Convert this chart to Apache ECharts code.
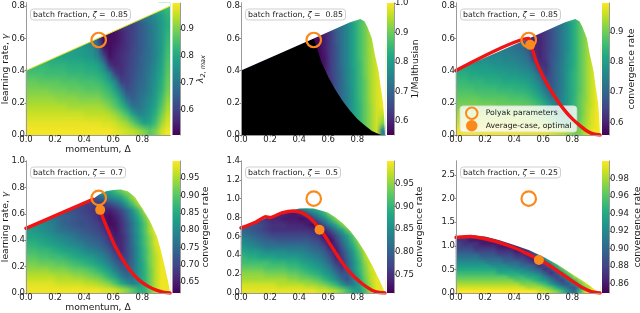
<!DOCTYPE html>
<html><head><meta charset="utf-8">
<style>html,body{margin:0;padding:0;background:#fff}#main{width:640px;height:313px;filter:blur(0.35px)}</style>
<script src="https://cdn.jsdelivr.net/npm/echarts@6/dist/echarts.min.js"></script>
</head><body><div id="main"></div>
<script>
const _ = null;
const viridis = ['#440154','#482475','#414487','#355f8d','#2a788e','#21918c','#22a884','#44bf70','#7ad151','#bddf26','#fde725'];
const columnCount = 25;

const ticksX = [0, 0.2, 0.4, 0.6, 0.8];
const ticksY1 = [0, 0.2, 0.4, 0.6, 0.8];
const ticksY4 = [0, 0.2, 0.4, 0.6, 0.8, 1.0];
const ticksY5 = [0, 0.2, 0.4, 0.6, 0.8, 1.0, 1.2, 1.4];
const ticksY6 = [0, 0.5, 1.0, 1.5, 2.0, 2.5];
const cbarTicks1 = [0.6, 0.7, 0.8, 0.9];
const cbarTicks2 = [0.6, 0.7, 0.8, 0.9, 1.0];
const cbarTicks3 = [0.6, 0.7, 0.8, 0.9];
const cbarTicks4 = [0.65, 0.70, 0.75, 0.80, 0.85, 0.90, 0.95];
const cbarTicks5 = [0.75, 0.80, 0.85, 0.90, 0.95];
const cbarTicks6 = [0.86, 0.88, 0.90, 0.92, 0.94, 0.96, 0.98];

// cell values (x100), rows listed top to bottom
const cellsP1 = [
[_,_,_,_,_,_,_,_,_,_,_,_,_,_,_,_,_,_,_,_,_,_,_,82,84],
[_,_,_,_,_,_,_,_,_,_,_,_,_,_,_,_,_,_,_,_,_,72,75,78,82],
[_,_,_,_,_,_,_,_,_,_,_,_,_,_,_,_,_,_,60,63,66,70,73,77,81],
[_,_,_,_,_,_,_,_,_,_,_,_,_,_,52,53,55,58,60,63,66,69,73,77,82],
[_,_,_,_,_,_,_,_,_,_,_,74,64,52,52,53,55,58,60,63,66,69,73,77,83],
[_,_,_,_,_,_,_,_,78,77,76,74,68,54,52,54,56,58,61,63,66,69,73,77,84],
[_,_,_,_,_,80,79,79,78,78,77,76,72,62,53,55,57,59,61,64,67,69,73,78,85],
[_,83,83,83,82,82,82,81,81,81,80,80,78,72,58,55,57,59,62,64,67,70,74,79,86],
[85,85,85,84,84,84,84,83,83,83,82,82,81,78,72,60,57,60,62,65,68,71,75,80,87],
[88,88,87,87,87,87,86,86,86,85,85,85,84,82,78,72,60,60,63,66,68,72,76,81,88],
[90,90,90,90,89,89,89,88,88,88,87,87,87,85,83,78,70,62,64,67,69,72,77,82,89],
[92,92,92,92,92,91,91,91,91,90,90,90,90,88,86,83,77,68,65,68,71,74,78,84,91],
[94,94,94,94,94,94,94,93,93,93,93,93,93,92,90,87,83,77,69,69,72,75,80,86,93],
[96,96,96,96,96,96,96,96,96,96,95,95,95,95,94,92,89,85,79,73,74,77,82,89,95],
[98,98,98,98,98,98,98,98,98,98,98,98,98,97,97,96,94,92,88,83,78,80,85,92,97],
[99,99,99,99,99,99,99,99,99,99,99,99,99,99,99,98,97,96,95,93,90,87,90,96,99]];
const cellsP2 = [
[_,_,_,_,_,_,_,_,_,_,_,_,_,_,_,_,_,_,_,_,_,_,_,_,_],
[_,_,_,_,_,_,_,_,_,_,_,_,_,_,_,_,_,_,_,_,86,89],
[_,_,_,_,_,_,_,_,_,_,_,_,_,_,_,_,_,72,76,81,86,90,94],
[_,_,_,_,_,_,_,_,_,_,_,_,_,_,59,63,68,72,76,81,86,90,94,97],
[_,_,_,_,_,_,_,_,_,_,_,_,56,56,59,63,68,72,76,81,86,90,94,97],
[_,_,_,_,_,_,_,_,_,_,_,_,56,56,59,63,67,72,76,81,86,90,94,97,99],
[_,_,_,_,_,_,_,_,_,_,_,_,_,56,58,63,67,72,76,81,86,90,94,97,99],
[_,_,_,_,_,_,_,_,_,_,_,_,_,56,58,63,67,72,76,81,85,90,94,97,99],
[_,_,_,_,_,_,_,_,_,_,_,_,_,_,59,63,67,71,76,80,85,90,94,97,99],
[_,_,_,_,_,_,_,_,_,_,_,_,_,_,_,62,67,71,76,80,85,89,94,97,99],
[_,_,_,_,_,_,_,_,_,_,_,_,_,_,_,63,67,71,75,80,85,89,94,97,99],
[_,_,_,_,_,_,_,_,_,_,_,_,_,_,_,_,68,71,75,80,85,89,94,97,99],
[_,_,_,_,_,_,_,_,_,_,_,_,_,_,_,_,_,72,75,80,84,89,93,97,99],
[_,_,_,_,_,_,_,_,_,_,_,_,_,_,_,_,_,_,76,80,84,89,93,97,96],
[_,_,_,_,_,_,_,_,_,_,_,_,_,_,_,_,_,_,_,81,84,89,93,97,92],
[_,_,_,_,_,_,_,_,_,_,_,_,_,_,_,_,_,_,_,_,_,89,93,97,75]];
const cellsP3 = [
[_,_,_,_,_,_,_,_,_,_,_,_,_,_,_,_,_,_,_,_,_,_,_,_,_],
[_,_,_,_,_,_,_,_,_,_,_,_,_,_,_,_,_,_,_,_,84,87],
[_,_,_,_,_,_,_,_,_,_,_,_,_,_,_,_,_,70,74,78,83,88,92],
[_,_,_,_,_,_,_,_,_,_,_,_,_,_,61,63,66,70,74,78,83,88,92,96],
[_,_,_,_,_,_,_,_,_,_,_,71,67,60,60,63,66,70,74,78,83,88,92,96],
[_,_,_,_,_,_,_,_,74,73,72,71,68,60,60,63,66,70,74,78,83,88,92,96,99],
[_,_,_,_,_,76,76,76,75,75,74,73,71,63,60,63,67,70,74,79,83,88,92,96,99],
[_,80,80,79,79,79,78,78,77,77,76,75,74,70,62,62,67,71,75,79,83,88,92,96,99],
[83,83,82,82,81,81,81,80,80,79,79,78,77,75,70,63,67,71,75,80,84,88,92,96,99],
[85,85,84,84,84,83,83,83,82,82,82,81,80,78,74,68,67,71,75,80,84,88,92,96,99],
[87,87,87,86,86,86,86,85,85,85,84,84,83,81,78,73,68,71,75,80,84,88,92,96,99],
[89,89,89,89,88,88,88,88,88,87,87,87,86,84,82,78,73,72,76,80,84,89,92,96,99],
[91,91,91,91,91,91,91,90,90,90,90,89,89,88,86,83,79,74,76,80,85,89,93,96,99],
[94,94,94,94,94,94,93,93,93,93,93,93,92,91,90,88,85,81,77,81,85,89,93,97,99],
[96,96,96,96,96,96,96,96,96,96,96,96,95,95,94,93,91,88,85,82,85,90,94,97,99],
[99,99,99,99,99,99,99,99,99,99,99,98,98,98,98,98,97,96,95,93,90,91,95,98,99]];
const cellsP4 = [
[_,_,_,_,_,_,_,_,_,_,_,_,_,_,84,88,91,94],
[_,_,_,_,_,_,_,_,_,_,_,72,73,76,79,81,84,89,94,98],
[_,_,_,_,_,_,_,_,_,70,69,69,68,68,70,73,77,83,89,95,99],
[_,_,_,_,_,_,73,72,71,70,69,68,67,65,65,67,70,75,81,88,95,99],
[_,_,_,78,77,75,74,73,72,71,70,69,67,64,63,65,68,73,79,85,91,97,99],
[_,81,80,79,78,76,74,73,72,71,71,70,69,66,63,64,67,71,77,83,89,95,99],
[83,82,81,80,79,77,76,75,74,73,72,71,70,68,65,64,67,71,77,83,89,95,99],
[84,84,83,82,81,80,79,78,77,75,74,73,72,70,67,65,66,70,76,82,88,93,98,99],
[86,86,85,84,83,82,81,80,79,78,76,75,74,72,69,66,66,70,76,82,88,93,98,99],
[88,88,87,87,86,85,84,83,82,81,79,78,77,75,72,68,66,70,75,81,87,92,97,99],
[90,90,89,89,88,88,87,86,85,84,83,82,80,78,75,71,68,70,75,81,87,92,96,99,99],
[92,92,91,91,91,90,90,89,88,87,86,85,83,81,78,74,71,71,75,81,86,92,96,99,99],
[94,94,94,94,93,93,93,92,91,91,90,89,87,85,82,78,74,72,76,81,86,91,96,99,99],
[96,96,96,96,96,95,95,95,94,94,93,92,91,89,86,83,78,75,76,81,86,91,96,99,99],
[98,98,98,98,98,97,97,97,97,97,96,96,95,94,92,89,85,81,78,80,86,91,96,99,99],
[99,99,99,99,99,99,99,99,99,99,99,99,99,98,98,97,95,93,90,86,86,91,96,99,99]];
const cellsP5 = [
[_,_,_,_,_,_,_,_,_,_,86,88,89,91],
[_,_,_,_,_,_,74,74,73,73,75,79,83,86,90,95],
[_,_,_,76,75,74,74,73,73,73,72,73,77,81,85,90,95,99],
[_,79,78,77,76,75,75,75,74,74,74,73,72,75,79,84,89,94,99],
[80,79,78,77,76,75,75,75,75,75,75,75,74,72,74,78,83,88,93,98],
[82,81,80,79,78,77,77,77,77,77,77,77,76,75,72,74,78,83,88,93,98],
[84,83,82,81,80,80,79,79,79,79,79,79,78,77,74,72,76,81,86,91,96,99],
[86,85,84,83,82,82,82,82,82,82,82,81,80,79,77,73,74,79,84,89,94,99],
[88,87,87,86,85,85,85,85,84,84,84,83,82,81,79,76,73,77,82,87,92,97,99],
[90,89,89,88,88,88,87,87,87,87,86,85,84,83,81,78,74,76,81,86,91,96,99],
[91,91,91,91,91,90,90,90,89,89,88,87,86,85,83,80,76,75,80,85,90,95,98,99],
[93,93,93,93,92,92,92,92,91,91,90,89,88,87,85,83,79,76,80,85,90,94,98,99],
[95,95,95,95,94,94,94,94,93,93,92,91,90,89,87,85,82,78,79,84,89,94,97,99],
[96,96,96,96,96,96,96,96,95,95,94,94,93,92,90,88,85,81,78,83,88,93,97,99,99],
[98,98,98,98,98,98,97,97,97,97,97,96,96,95,94,92,90,86,83,83,87,92,96,99,99],
[99,99,99,99,99,99,99,99,99,99,99,99,99,98,98,97,96,94,91,88,87,91,96,99,99]];
const cellsP6 = [
[87,87,87,87,88,89],
[87,87,86,86,86,86,86,88,91],
[88,87,87,87,86,86,86,86,86,87,90],
[88,88,88,87,87,87,87,86,86,86,86,88,92],
[89,89,89,88,88,88,88,87,87,87,86,86,87,91,95],
[90,90,90,90,89,89,89,88,88,88,87,87,86,88,92,96],
[91,91,91,91,90,90,90,90,89,89,88,88,87,86,89,93,97],
[92,92,92,92,92,91,91,91,90,90,90,89,88,87,87,90,94,98],
[93,93,93,93,93,93,92,92,92,91,91,90,90,89,87,88,91,95,99],
[94,94,94,94,94,94,94,93,93,93,92,92,91,90,89,87,88,92,96,99],
[95,95,95,95,95,95,95,94,94,94,94,93,93,92,91,89,87,89,93,97,99],
[96,96,96,96,96,96,96,96,96,95,95,95,94,94,93,91,89,88,90,94,98,99],
[97,97,97,97,97,97,97,97,97,97,96,96,96,95,94,93,91,89,88,91,95,98,99],
[98,98,98,98,98,98,98,98,98,98,98,97,97,97,96,95,93,91,89,89,92,96,99,99],
[99,99,99,99,99,99,99,99,99,99,99,99,98,98,98,97,96,94,92,90,89,93,97,99,99],
[100,100,100,100,100,100,100,100,100,100,100,100,100,100,99,99,98,97,95,92,90,95,99,100,100]];

// region edges and optimal-rate curves
const edgeP1 = [[0,0.4],[0.99,0.8]];
const edgeP2 = [[0,0.4],[0.5,0.6],[0.75,0.7],[0.8,0.715],[0.82,0.72],[0.85,0.705],[0.87,0.67],[0.9,0.6],[0.92,0.5],[0.945,0.4],[0.96,0.3],[0.977,0.2],[0.985,0.1],[0.99,0]];
const edgeP4 = [[0,0.49],[0.47,0.72],[0.5,0.745],[0.55,0.77],[0.6,0.78],[0.65,0.785],[0.7,0.77],[0.75,0.725],[0.8,0.64],[0.85,0.55],[0.9,0.43],[0.93,0.31],[0.96,0.17],[0.98,0.07],[0.99,0]];
const edgeP5 = [[0,0.68],[0.18,0.8],[0.2,0.8],[0.3,0.85],[0.35,0.875],[0.4,0.895],[0.45,0.9],[0.5,0.895],[0.55,0.875],[0.6,0.85],[0.65,0.8],[0.7,0.74],[0.75,0.66],[0.8,0.56],[0.85,0.44],[0.9,0.3],[0.95,0.14],[0.98,0.04],[0.99,0]];
const edgeP6 = [[0,1.2],[0.1,1.22],[0.2,1.2],[0.3,1.12],[0.4,1.02],[0.5,0.91],[0.6,0.77],[0.7,0.6],[0.8,0.4],[0.9,0.2],[0.95,0.08],[0.99,0]];
const blackP2 = [[0,0.4],[0.5,0.6],[0.52,0.55],[0.55,0.46],[0.6,0.36],[0.65,0.28],[0.7,0.21],[0.75,0.15],[0.8,0.1],[0.85,0.06],[0.9,0.025],[0.95,0.005],[0.97,0]];
const redP3 = [[0,0.4],[0.5,0.6],[0.52,0.55],[0.55,0.46],[0.6,0.36],[0.65,0.28],[0.7,0.21],[0.75,0.15],[0.8,0.1],[0.85,0.06],[0.9,0.025],[0.95,0.005],[0.99,0]];
const redP4 = [[0,0.49],[0.46,0.71],_,[0.52,0.6],[0.53,0.565],[0.57,0.46],[0.61,0.36],[0.65,0.28],[0.69,0.21],[0.74,0.14],[0.78,0.096],[0.84,0.05],[0.9,0.02],[0.95,0.005],[0.99,0]];
const redP5 = [[0,0.69],[0.1,0.75],[0.17,0.81],[0.2,0.8],[0.28,0.85],[0.36,0.87],[0.42,0.85],[0.47,0.8],[0.52,0.72],[0.57,0.62],[0.62,0.5],[0.67,0.38],[0.72,0.27],[0.78,0.17],[0.84,0.09],[0.9,0.03],[0.95,0.005],[0.99,0]];
const redP6 = [[0,1.18],[0.1,1.2],[0.2,1.15],[0.3,1.07],[0.4,0.96],[0.5,0.82],[0.57,0.71],[0.65,0.57],[0.72,0.42],[0.8,0.25],[0.87,0.11],[0.93,0.03],[0.99,0]];

// parameter markers
const polyakPoints = [[0.5,0.59],[0.5,0.59],[0.5,0.59],[0.5,0.72],[0.5,1.0],[0.5,2.0]];
const optimalPoints = [_,_,[0.51,0.56],[0.51,0.63],[0.54,0.67],[0.57,0.7]];
const cbarRanges = [[0.504,0.9975],[0.552,1.0],[0.558,0.9967],[0.619,0.999],[0.709,1.0],[0.849,0.9999]];
const zetaLabels = ['0.85','0.85','0.85','0.7','0.5','0.25'];
const yMax = [0.82,0.82,0.82,1.0,1.4,2.8];
const rowTotals = [16,16,16,20,24,36];

const panels = [
 {cells:cellsP1,edge:edgeP1,ticks:ticksY1,cbTicks:cbarTicks1,cbDigits:1,left:26,top:3,cbLeft:172.5,cbGap:15,cbName:'{i|λ}{s|2, max}',edgeLine:1},
 {cells:cellsP2,edge:edgeP2,black:blackP2,ticks:ticksY1,cbTicks:cbarTicks2,cbDigits:1,left:241,top:3,cbLeft:387,cbGap:17,cbName:'{a|1/Malthusian}'},
 {cells:cellsP3,edge:edgeP2,red:redP3,ticks:ticksY1,cbTicks:cbarTicks3,cbDigits:1,left:456,top:3,cbLeft:602,cbGap:18,cbName:'{a|convergence rate}'},
 {cells:cellsP4,edge:edgeP4,red:redP4,ticks:ticksY4,cbTicks:cbarTicks4,cbDigits:2,left:26,top:161,cbLeft:172.5,cbGap:21,cbName:'{a|convergence rate}'},
 {cells:cellsP5,edge:edgeP5,red:redP5,ticks:ticksY5,cbTicks:cbarTicks5,cbDigits:2,left:241,top:161,cbLeft:387,cbGap:21,cbName:'{a|convergence rate}'},
 {cells:cellsP6,edge:edgeP6,red:redP6,ticks:ticksY6,cbTicks:cbarTicks6,cbDigits:2,left:456,top:161,cbLeft:602,cbGap:24,cbName:'{a|convergence rate}'}
];

const FONT = 'DejaVu Sans', TXT = '#1a1a1a', FRAME = '#9a9a9a', ORANGE = '#fb8a1c', W = 144, H = 132;
const grid = [], xAxis = [], yAxis = [], series = [], visualMap = [], title = [];
const nameRich = {a:{fontSize:9.2,fontFamily:FONT,color:TXT},i:{fontSize:9.2,fontFamily:FONT,fontStyle:'italic',color:TXT},s:{fontSize:6.5,fontFamily:FONT,fontStyle:'italic',color:TXT,padding:[5,0,0,0]}};

// paint one panel's cell table onto a small bitmap (one pixel per cell); upscaling it gives the smooth shading
function cellBitmap(cells, cmin, cmax) {
  const rows = cells.length, cv = document.createElement('canvas');
  cv.width = columnCount; cv.height = rows;
  const ctx = cv.getContext('2d');
  const filled = cells.map(r => {
    const a = []; for (let c = 0; c < columnCount; c++) a.push(c < r.length ? r[c] : null);
    const known = a.map((v,i)=>v===null?-1:i).filter(i=>i>=0);
    return known.length ? a.map((v,i)=> v!==null ? v : a[known.reduce((b,k)=>Math.abs(k-i)<Math.abs(b-i)?k:b, known[0])]) : null;
  });
  for (let r = 0; r < rows; r++) if (!filled[r]) filled[r] = filled[r+1];
  filled.forEach((row,r)=>row.forEach((v,c)=>{
    const t = Math.max(0,Math.min(1,(v/100-cmin)/(cmax-cmin)));
    ctx.fillStyle = echarts.color.lerp(t, viridis);
    ctx.fillRect(c,r,1,1);
  }));
  return cv;
}

panels.forEach((p, n) => {
  const withNames = n === 0 || n === 3;
  const g = grid.length;
  grid.push({left:p.left, top:p.top, width:W, height:H, outerBoundsMode:'none'});
  const vx = xAxis.length;
  xAxis.push({type:'value',gridIndex:g,min:0,max:0.99,position:'bottom',z:6,splitLine:{show:false},
    axisLine:{show:true,onZero:false,lineStyle:{color:FRAME,width:1}},
    axisTick:{show:true,length:1.5,customValues:ticksX,lineStyle:{color:'#555',width:0.7}},
    axisLabel:{customValues:ticksX,formatter:v=>v.toFixed(1),margin:0.5,fontSize:8.5,fontFamily:FONT,color:TXT,hideOverlap:false},
    name:withNames?'momentum, Δ':'',nameLocation:'middle',nameGap:10,nameMoveOverlap:false,nameTextStyle:{fontSize:9.2,fontFamily:FONT,color:TXT}});
  const vy = yAxis.length;
  yAxis.push({type:'value',gridIndex:g,min:0,max:yMax[n],position:'left',z:6,splitLine:{show:false},
    axisLine:{show:true,onZero:false,lineStyle:{color:FRAME,width:1}},
    axisTick:{show:true,length:1.5,customValues:p.ticks,lineStyle:{color:'#555',width:0.7}},
    axisLabel:{customValues:p.ticks,formatter:v=>v.toFixed(1),margin:1,fontSize:8.5,fontFamily:FONT,color:TXT,hideOverlap:false},
    name:withNames?'{a|learning rate, }{i|γ}':'',nameLocation:'middle',nameRotate:90,nameGap:16,nameMoveOverlap:false,nameTextStyle:{rich:nameRich}});
  const cx = xAxis.length;
  xAxis.push({type:'category',gridIndex:g,position:'top',z:6,data:Array.from({length:columnCount},(_v,i)=>i),
    axisLine:{show:true,lineStyle:{color:FRAME,width:1}},axisTick:{show:false},axisLabel:{show:false},splitLine:{show:false}});
  const cy = yAxis.length;
  yAxis.push({type:'category',gridIndex:g,position:'right',z:6,data:Array.from({length:rowTotals[n]},(_v,i)=>i),
    axisLine:{show:true,lineStyle:{color:FRAME,width:1}},axisTick:{show:false},axisLabel:{show:false},splitLine:{show:false}});

  const [cmin,cmax] = cbarRanges[n];
  const data = [];
  const rows = p.cells.length;
  p.cells.forEach((row,r)=>row.forEach((v,c)=>{
    if (v!==null) data.push([c, rows-1-r, Math.max(cmin,Math.min(cmax,v/100))]);
  }));
  visualMap.push({show:false,seriesIndex:series.length,min:cmin,max:cmax,dimension:2,inRange:{color:viridis}});
  series.push({type:'heatmap',xAxisIndex:cx,yAxisIndex:cy,data,z:2,progressive:0,animation:false,itemStyle:{borderWidth:0}});
  // smooth shading from the same cells, placed through the category axes
  const bmp = cellBitmap(p.cells,cmin,cmax);
  series.push({type:'custom',xAxisIndex:cx,yAxisIndex:cy,data:[[0,0,columnCount-1,rows-1]],z:2.5,silent:true,clip:true,
    renderItem:(params,api)=>{
      const a=api.coord([api.value(0),api.value(1)]), b=api.coord([api.value(2),api.value(3)]);
      const cw=(b[0]-a[0])/(columnCount-1), ch=(a[1]-b[1])/(rows-1);
      return {type:'image',style:{image:bmp,x:a[0]-cw/2,y:b[1]-ch/2,width:cw*columnCount,height:ch*rows}};
    }});
  if (p.black) series.push({type:'line',xAxisIndex:vx,yAxisIndex:vy,data:p.black,z:3,showSymbol:false,lineStyle:{width:0},areaStyle:{color:'#000',opacity:1,origin:'start'}});
  series.push({type:'line',xAxisIndex:vx,yAxisIndex:vy,data:p.edge,z:3,showSymbol:false,
    lineStyle:p.edgeLine?{width:1,color:'#dfe318'}:{width:0},areaStyle:{color:'#fff',opacity:1,origin:'end'}});
  if (p.red) series.push({type:'line',xAxisIndex:vx,yAxisIndex:vy,data:p.red,z:4,showSymbol:false,connectNulls:false,smooth:0.2,
    lineStyle:{color:'#f01414',width:3.4,cap:'round'}});
  series.push({type:'scatter',name:'Polyak parameters',xAxisIndex:vx,yAxisIndex:vy,data:[polyakPoints[n]],z:6,symbolSize:14.5,
    itemStyle:{color:'rgba(255,255,255,0)',borderColor:ORANGE,borderWidth:2.2,opacity:1}});
  if (optimalPoints[n]) series.push({type:'scatter',name:'Average-case, optimal',xAxisIndex:vx,yAxisIndex:vy,data:[optimalPoints[n]],z:7,symbolSize:10,
    itemStyle:{color:ORANGE,opacity:1}});

  const cg = grid.length;
  grid.push({left:p.cbLeft,top:p.top,width:7.5,height:H,outerBoundsMode:'none'});
  xAxis.push({type:'value',gridIndex:cg,min:0,max:1,show:false});
  yAxis.push({type:'value',gridIndex:cg,min:cmin,max:cmax,position:'right',z:6,splitLine:{show:false},
    axisLine:{show:true,onZero:false,lineStyle:{color:FRAME,width:1}},
    axisTick:{show:true,length:1.5,customValues:p.cbTicks,lineStyle:{color:'#555',width:0.7}},
    axisLabel:{customValues:p.cbTicks,formatter:v=>v.toFixed(p.cbDigits),margin:0.5,fontSize:8.5,fontFamily:FONT,color:TXT,hideOverlap:false},
    name:p.cbName,nameLocation:'middle',nameRotate:90,nameGap:p.cbGap,nameMoveOverlap:false,nameTextStyle:{rich:nameRich}});
  series.push({type:'custom',xAxisIndex:xAxis.length-1,yAxisIndex:yAxis.length-1,data:[[0,cmin,1,cmax]],z:2,
    renderItem:(params,api)=>{
      const a=api.coord([api.value(0),api.value(1)]), b=api.coord([api.value(2),api.value(3)]);
      return {type:'rect',shape:{x:a[0],y:b[1],width:b[0]-a[0],height:a[1]-b[1]},
        style:{fill:new echarts.graphic.LinearGradient(0,1,0,0,viridis.map((c,i)=>({offset:i/(viridis.length-1),color:c})))}};
    }});

  const boxLeft = p.left + 4;
  title.push({text:'{a|batch fraction, }{i|ζ}{a| =  '+zetaLabels[n]+'}',left:boxLeft,top:p.top+6,padding:[1.5,3,1.5,3],
    backgroundColor:'rgba(255,255,255,0.85)',borderColor:'#cfcfcf',borderWidth:1,borderRadius:3,
    textStyle:{fontWeight:'normal',rich:{a:{fontSize:7.8,fontWeight:'normal',fontFamily:FONT,color:TXT},i:{fontSize:7.8,fontWeight:'normal',fontFamily:FONT,fontStyle:'italic',color:TXT}}}});
});

const chart = echarts.init(document.getElementById('main'),null,{renderer:'canvas'});
chart.setOption({animation:false,backgroundColor:'#fff',grid,xAxis,yAxis,series,visualMap,title,
  legend:{show:true,orient:'vertical',left:460,top:106,data:['Polyak parameters','Average-case, optimal'],selectedMode:false,
    backgroundColor:'rgba(255,255,255,0.8)',borderColor:'#dddddd',borderWidth:1,borderRadius:3,padding:[0.5,5,0.5,5],itemGap:0,itemWidth:12,itemHeight:11.5,
    textStyle:{fontSize:7.7,fontFamily:FONT,color:TXT,padding:[0,0,0,3]}}});
</script></body></html>
